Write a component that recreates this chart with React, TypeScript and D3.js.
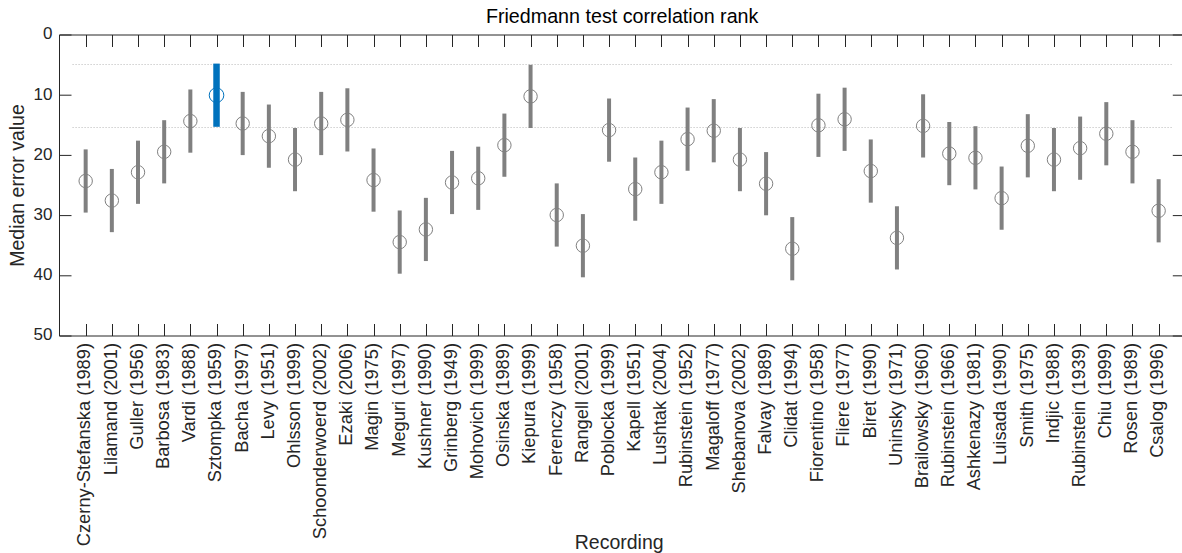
import React, { useRef, useEffect } from "react";
import * as d3 from "d3";

const RECORDINGS = [
  "Czerny-Stefanska (1989)", "Lilamand (2001)", "Guller (1956)", "Barbosa (1983)", "Vardi (1988)",
  "Sztompka (1959)", "Bacha (1997)", "Levy (1951)", "Ohlsson (1999)", "Schoonderwoerd (2002)",
  "Ezaki (2006)", "Magin (1975)", "Meguri (1997)", "Kushner (1990)", "Grinberg (1949)",
  "Mohovich (1999)", "Osinska (1989)", "Kiepura (1999)", "Ferenczy (1958)", "Rangell (2001)",
  "Poblocka (1999)", "Kapell (1951)", "Lushtak (2004)", "Rubinstein (1952)", "Magaloff (1977)",
  "Shebanova (2002)", "Falvay (1989)", "Clidat (1994)", "Fiorentino (1958)", "Fliere (1977)",
  "Biret (1990)", "Uninsky (1971)", "Brailowsky (1960)", "Rubinstein (1966)", "Ashkenazy (1981)",
  "Luisada (1990)", "Smith (1975)", "Indjic (1988)", "Rubinstein (1939)", "Chiu (1999)",
  "Rosen (1989)", "Csalog (1996)",
];

const MEDIANS = [
  24.25, 27.5, 22.8, 19.4, 14.3, 10.0, 14.7, 16.8, 20.7, 14.7,
  14.1, 24.1, 34.4, 32.3, 24.5, 23.8, 18.3, 10.2, 29.9, 35.0,
  15.8, 25.6, 22.8, 17.3, 15.9, 20.7, 24.7, 35.5, 15.0, 14.0,
  22.6, 33.7, 15.1, 19.7, 20.4, 27.1, 18.4, 20.7, 18.8, 16.4,
  19.4, 29.2,
];

// comparison interval half width (same for every recording)
const HALF_WIDTH = 5.25;
const SELECTED = 5;
const Y_TICKS = [0, 10, 20, 30, 40, 50];

const W = 1182;
const H = 553;

export default function App() {
  const svgRef = useRef<SVGSVGElement>(null);

  useEffect(() => {
    if (!svgRef.current) return;
    const svg = d3.select(svgRef.current);
    svg.selectAll("*").remove();

    const margin = { top: 35, left: 59.5, bottom: 336 };
    const step = 26.17;
    const x = d3.scaleLinear().domain([0, RECORDINGS.length + 1]).range([margin.left, margin.left + step * (RECORDINGS.length + 1)]);
    const y = d3.scaleLinear().domain([0, 50]).range([margin.top, margin.bottom]);
    const x0 = x(0), x1 = x(RECORDINGS.length + 1);
    const font = "'Liberation Sans', Arial, Helvetica, sans-serif";
    const axisColor = "#262626";

    // reference lines at selected interval bounds
    const lo = MEDIANS[SELECTED] - HALF_WIDTH;
    const hi = MEDIANS[SELECTED] + HALF_WIDTH;
    svg.selectAll(".ref")
      .data([lo, hi])
      .enter()
      .append("line")
      .attr("x1", x(0.5))
      .attr("x2", x(RECORDINGS.length + 0.5))
      .attr("y1", d => Math.round(y(d)) + 0.5)
      .attr("y2", d => Math.round(y(d)) + 0.5)
      .attr("stroke", "#b8b8b8")
      .attr("stroke-width", 1)
      .attr("stroke-dasharray", "1,2");

    // intervals
    svg.selectAll(".bar")
      .data(MEDIANS)
      .enter()
      .append("line")
      .attr("x1", (d, i) => x(i + 1))
      .attr("x2", (d, i) => x(i + 1))
      .attr("y1", d => y(d - HALF_WIDTH))
      .attr("y2", d => y(d + HALF_WIDTH))
      .attr("stroke", (d, i) => i === SELECTED ? "#0072BD" : "#808080")
      .attr("stroke-width", (d, i) => i === SELECTED ? 6.5 : 4);

    // medians
    svg.selectAll(".pt")
      .data(MEDIANS)
      .enter()
      .append("circle")
      .attr("cx", (d, i) => x(i + 1))
      .attr("cy", d => y(d))
      .attr("r", (d, i) => i === SELECTED ? 7.3 : 6.7)
      .attr("fill", "none")
      .attr("stroke", (d, i) => i === SELECTED ? "#0072BD" : "#808080")
      .attr("stroke-width", 1);

    // box
    svg.append("line").attr("x1", x0).attr("x2", x1).attr("y1", margin.top).attr("y2", margin.top)
      .attr("stroke", axisColor).attr("stroke-width", 1);
    svg.append("line").attr("x1", x0).attr("x2", x1).attr("y1", margin.bottom).attr("y2", margin.bottom)
      .attr("stroke", axisColor).attr("stroke-width", 1);
    svg.append("line").attr("x1", x0).attr("x2", x0).attr("y1", margin.top).attr("y2", margin.bottom)
      .attr("stroke", axisColor).attr("stroke-width", 1);
    svg.append("line").attr("x1", x1).attr("x2", x1).attr("y1", margin.top).attr("y2", margin.bottom)
      .attr("stroke", axisColor).attr("stroke-width", 1);

    const tickLen = 12;
    // x ticks, top and bottom
    const xt = svg.selectAll(".xt").data(RECORDINGS).enter().append("g");
    xt.append("line")
      .attr("x1", (d, i) => Math.round(x(i + 1)) + 0.5).attr("x2", (d, i) => Math.round(x(i + 1)) + 0.5)
      .attr("y1", margin.top).attr("y2", margin.top + tickLen)
      .attr("stroke", axisColor);
    xt.append("line")
      .attr("x1", (d, i) => Math.round(x(i + 1)) + 0.5).attr("x2", (d, i) => Math.round(x(i + 1)) + 0.5)
      .attr("y1", margin.bottom).attr("y2", margin.bottom - tickLen)
      .attr("stroke", axisColor);
    xt.append("text")
      .attr("transform", (d, i) => `translate(${x(i + 1)},${margin.bottom + 7}) rotate(-90)`)
      .attr("text-anchor", "end")
      .attr("dominant-baseline", "middle")
      .attr("font-family", font)
      .attr("font-size", "18.3px")
      .attr("fill", axisColor)
      .text(d => d);

    // y ticks left and right
    const yt = svg.selectAll(".yt").data(Y_TICKS).enter().append("g");
    yt.append("line")
      .attr("x1", x0).attr("x2", x0 + tickLen)
      .attr("y1", d => y(d)).attr("y2", d => y(d))
      .attr("stroke", axisColor);
    yt.append("line")
      .attr("x1", x1).attr("x2", x1 - tickLen)
      .attr("y1", d => y(d)).attr("y2", d => y(d))
      .attr("stroke", axisColor);
    yt.append("text")
      .attr("x", x0 - 7)
      .attr("y", d => y(d))
      .attr("text-anchor", "end")
      .attr("dominant-baseline", "middle")
      .attr("font-family", font)
      .attr("font-size", "17px")
      .attr("fill", axisColor)
      .text(d => d);

    // labels
    svg.append("text")
      .attr("x", (x0 + x1) / 2)
      .attr("y", 23)
      .attr("text-anchor", "middle")
      .attr("font-family", font)
      .attr("font-size", "19.7px")
      .attr("fill", "#000")
      .text("Friedmann test correlation rank");

    svg.append("text")
      .attr("x", (x0 + x1) / 2 - 3)
      .attr("y", 549)
      .attr("text-anchor", "middle")
      .attr("font-family", font)
      .attr("font-size", "19.5px")
      .attr("fill", axisColor)
      .text("Recording");

    svg.append("text")
      .attr("transform", `translate(24,${(margin.top + margin.bottom) / 2}) rotate(-90)`)
      .attr("text-anchor", "middle")
      .attr("font-family", font)
      .attr("font-size", "19.5px")
      .attr("fill", axisColor)
      .text("Median error value");
  }, []);

  return (
    <div style={{ position: "absolute", left: 0, top: 0, width: W, height: H, background: "#fff" }}>
      <svg ref={svgRef} width={W} height={H} style={{ display: "block" }} />
    </div>
  );
}
